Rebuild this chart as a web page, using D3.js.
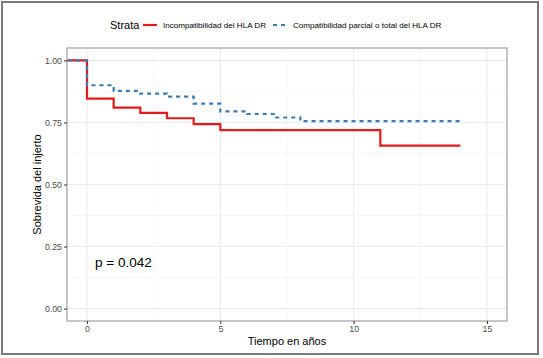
<!DOCTYPE html>
<html><head><meta charset="utf-8">
<script src="https://cdn.jsdelivr.net/npm/d3@7"></script>
<style>body{margin:0;background:#fff}svg{display:block}text{font-family:"Liberation Sans",Arial,sans-serif}</style>
</head><body><svg id="c" width="543" height="358"></svg>
<script>
const seriesNames = ["Incompatibilidad del HLA DR", "Compatibilidad parcial o total del HLA DR"];
const redTimes = [-1, 0, 1, 2, 3, 4, 5, 11, 14];
const redSurv  = [1.00, 0.846, 0.810, 0.789, 0.767, 0.743, 0.719, 0.657, 0.657];
const blueTimes = [-1, 0, 1, 2, 3, 4, 5, 6, 7, 8, 14];
const blueSurv  = [1.00, 0.900, 0.877, 0.866, 0.854, 0.826, 0.795, 0.784, 0.770, 0.755, 0.755];
const xTicks = [0, 5, 10, 15];
const yTicks = [0, 0.25, 0.5, 0.75, 1.0];
const yTickLabels = ["0.00", "0.25", "0.50", "0.75", "1.00"];
const pLabel = "p = 0.042";

const svg = d3.select("#c");
const L = 67, R = 507, T = 48, B = 321;
const x = d3.scaleLinear().domain([-0.75, 15.75]).range([L, R]);
const y = d3.scaleLinear().domain([-0.05, 1.05]).range([B, T]);

// outer border
svg.append("rect").attr("x", 2).attr("y", 2).attr("width", 536).attr("height", 352)
  .attr("fill", "none").attr("stroke", "#7a7a7a").attr("stroke-width", 2);

// grid
const g = svg.append("g");
[2.5, 7.5, 12.5].forEach(v => g.append("line").attr("x1", x(v)).attr("x2", x(v)).attr("y1", T).attr("y2", B).attr("stroke", "#f2f2f2").attr("stroke-width", 0.6));
[0.125, 0.375, 0.625, 0.875].forEach(v => g.append("line").attr("y1", y(v)).attr("y2", y(v)).attr("x1", L).attr("x2", R).attr("stroke", "#f2f2f2").attr("stroke-width", 0.6));
xTicks.forEach(v => g.append("line").attr("x1", x(v)).attr("x2", x(v)).attr("y1", T).attr("y2", B).attr("stroke", "#ebebeb").attr("stroke-width", 1.1));
yTicks.forEach(v => g.append("line").attr("y1", y(v)).attr("y2", y(v)).attr("x1", L).attr("x2", R).attr("stroke", "#ebebeb").attr("stroke-width", 1.1));

svg.append("clipPath").attr("id", "clip").append("rect").attr("x", L).attr("y", T).attr("width", R - L).attr("height", B - T);

const line = d3.line().curve(d3.curveStepAfter).x(d => x(d[0])).y(d => y(d[1]));
const plot = svg.append("g").attr("clip-path", "url(#clip)");
plot.append("path").datum(redTimes.map((t, i) => [t, redSurv[i]])).attr("d", line)
  .attr("fill", "none").attr("stroke", "#E41A1C").attr("stroke-width", 2.2);
plot.append("path").datum(blueTimes.map((t, i) => [t, blueSurv[i]])).attr("d", line)
  .attr("fill", "none").attr("stroke", "#377EB8").attr("stroke-width", 2.2).attr("stroke-dasharray", "4,4");

// panel border
svg.append("rect").attr("x", L).attr("y", T).attr("width", R - L).attr("height", B - T)
  .attr("fill", "none").attr("stroke", "#8c8c8c").attr("stroke-width", 1);

// axes
const xa = svg.append("g").attr("transform", `translate(0,${B})`)
  .call(d3.axisBottom(x).tickValues(xTicks).tickSize(3).tickPadding(2).tickFormat(d3.format("d")));
const ya = svg.append("g").attr("transform", `translate(${L},0)`)
  .call(d3.axisLeft(y).tickValues(yTicks).tickSize(3).tickPadding(2).tickFormat((d, i) => yTickLabels[i]));
[xa, ya].forEach(a => {
  a.select(".domain").remove();
  a.selectAll(".tick line").attr("stroke", "#333").attr("stroke-width", 1);
  a.selectAll("text").attr("fill", "#4d4d4d").style("font-size", "8.8px");
});

// titles
svg.append("text").attr("x", (L + R) / 2).attr("y", 345).attr("text-anchor", "middle")
  .style("font-size", "11px").attr("fill", "#000").text("Tiempo en años");
svg.append("text").attr("transform", `translate(41,${(T + B) / 2}) rotate(-90)`).attr("text-anchor", "middle")
  .style("font-size", "11px").attr("fill", "#000").text("Sobrevida del injerto");

svg.append("text").attr("x", 95).attr("y", 267).style("font-size", "13.5px").attr("fill", "#000").text(pLabel);

// legend
const lg = svg.append("g");
lg.append("text").attr("x", 110).attr("y", 29).style("font-size", "11px").text("Strata");
lg.append("line").attr("x1", 143).attr("x2", 157).attr("y1", 25).attr("y2", 25).attr("stroke", "#E41A1C").attr("stroke-width", 2.2);
lg.append("text").attr("x", 163).attr("y", 28).style("font-size", "8.1px").text(seriesNames[0]);
lg.append("line").attr("x1", 273).attr("x2", 287).attr("y1", 25).attr("y2", 25).attr("stroke", "#377EB8").attr("stroke-width", 2.2).attr("stroke-dasharray", "4,4");
lg.append("text").attr("x", 293).attr("y", 28).style("font-size", "8.1px").text(seriesNames[1]);
</script></body></html>
